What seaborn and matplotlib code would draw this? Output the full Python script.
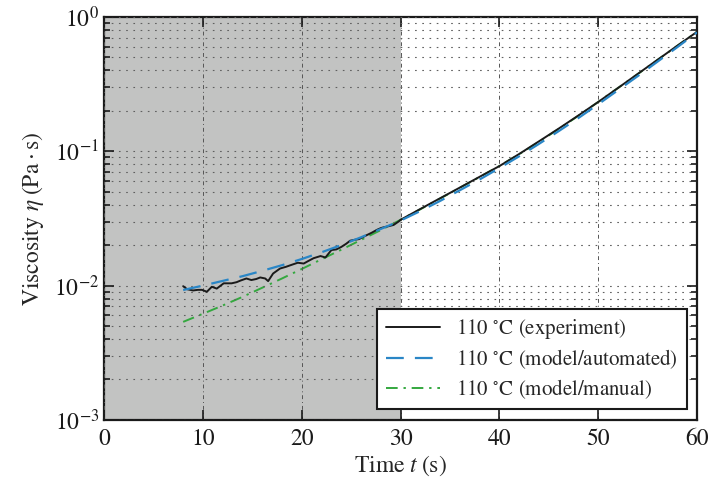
import numpy as np
import pandas as pd
import matplotlib
matplotlib.use("Agg")
import matplotlib.pyplot as plt
import seaborn as sns
from matplotlib.ticker import LogLocator, MultipleLocator, NullFormatter

# ---- data ----
t_exp = [8.0, 8.4, 9.0, 9.5, 9.9, 10.4, 10.9, 11.4, 12.1, 12.9, 13.4, 13.8, 14.4,
         14.9, 15.4, 15.8, 16.3, 16.6, 17.1, 17.8, 18.4, 19.0, 19.6, 20.2, 20.7,
         21.2, 21.9, 22.4, 23.0, 23.5, 24.0, 24.5, 24.9, 25.3, 25.8, 26.2, 26.6,
         27.1, 27.6, 28.0, 28.3, 28.8, 29.3, 29.8, 30.0, 32, 34, 36, 38, 40, 42,
         44, 46, 48, 50, 52, 54, 56, 58, 60]
eta_exp = [0.0099, 0.0094, 0.0092, 0.0093, 0.0093, 0.0090, 0.0098, 0.0095, 0.0104,
           0.0104, 0.0106, 0.0109, 0.0113, 0.0110, 0.0112, 0.0115, 0.0113, 0.0108,
           0.0123, 0.0134, 0.0138, 0.0143, 0.0148, 0.0146, 0.0153, 0.0160, 0.0166,
           0.0162, 0.0184, 0.0186, 0.0194, 0.0205, 0.0216, 0.0219, 0.0222, 0.0230,
           0.0238, 0.0248, 0.0260, 0.0268, 0.0272, 0.0277, 0.0283, 0.0300, 0.0309,
           0.0372, 0.0447, 0.0537, 0.0646, 0.0776, 0.0955, 0.1186, 0.1476, 0.185,
           0.233, 0.296, 0.377, 0.480, 0.611, 0.776]

t_model = [8, 10, 12, 14, 16, 18, 20, 22, 24, 26, 28, 30, 32, 34, 36, 38, 40, 42,
           44, 46, 48, 50, 52, 54, 56, 58, 60]
eta_auto = [0.00927, 0.0100, 0.01084, 0.01175, 0.01288, 0.01419, 0.01578, 0.0177,
            0.02004, 0.0229, 0.0264, 0.0305, 0.0359, 0.0427, 0.0513, 0.0617, 0.0750,
            0.0918, 0.1135, 0.1413, 0.177, 0.224, 0.285, 0.363, 0.465, 0.596, 0.767]
eta_manual = [0.00537, 0.00617, 0.00711, 0.00824, 0.00964, 0.0113, 0.0133, 0.0157,
              0.0185, 0.0219, 0.0259, 0.0309, 0.0370, 0.0445, 0.0535, 0.0644, 0.0778,
              0.0951, 0.1175, 0.1466, 0.184, 0.233, 0.296, 0.376, 0.479, 0.610, 0.776]

shade_range = [0, 30]
labels = [r"110 $^{\circ}$C (experiment)",
          r"110 $^{\circ}$C (model/automated)",
          r"110 $^{\circ}$C (model/manual)"]

# ---- style ----
sns.set_style("ticks")
plt.rcParams["font.family"] = ["STIXGeneral", "DejaVu Serif"]
plt.rcParams["mathtext.fontset"] = "stix"

fig = plt.figure(figsize=(7.13, 4.86), dpi=100)
ax = fig.add_axes([0.146, 0.136, 0.8316, 0.829])

ax.axvspan(shade_range[0], shade_range[1], color="#c2c3c2", zorder=0, lw=0)

sns.lineplot(x=t_exp, y=eta_exp, ax=ax, color="#1a1a1a", lw=1.4,
             label=labels[0], zorder=3)
sns.lineplot(x=t_model, y=eta_auto, ax=ax, color="#2a86c6", lw=1.6,
             label=labels[1], zorder=4)
sns.lineplot(x=t_model, y=eta_manual, ax=ax, color="#34a83f", lw=1.4,
             label=labels[2], zorder=2)
lines = ax.get_lines()
lines[1].set_dashes([8, 5])
lines[2].set_dashes([6, 3, 1.2, 3])

ax.set_yscale("log")
ax.set_xlim(0, 60)
ax.set_ylim(1e-3, 1)
ax.xaxis.set_major_locator(MultipleLocator(10))
ax.yaxis.set_major_locator(LogLocator(base=10, numticks=10))
ax.yaxis.set_minor_locator(LogLocator(base=10, subs=np.arange(2, 10), numticks=20))
ax.yaxis.set_minor_formatter(NullFormatter())

ax.grid(which="major", axis="x", color="#555555", ls=(0, (4, 3, 1, 3)), lw=0.7, zorder=1)
ax.grid(which="major", axis="y", color="#606060", ls=(0, (1.5, 5)), lw=0.8, zorder=1)
ax.grid(which="minor", axis="y", color="#606060", ls=(0, (1.5, 5)), lw=0.8, zorder=1)
ax.set_axisbelow(False)

ax.tick_params(which="both", direction="in", top=True, right=True,
               labelsize=17, width=1.2, colors="#1a1a1a")
ax.tick_params(which="major", length=7)
ax.tick_params(which="minor", length=4)
ax.tick_params(axis="x", pad=6)
for s in ax.spines.values():
    s.set_linewidth(1.6)
    s.set_color("#1a1a1a")

ax.set_xlabel(r"Time $t\;$(s)", fontsize=17, labelpad=3)
ax.set_ylabel(r"Viscosity $\eta\;(\mathrm{Pa \cdot s})$", fontsize=17, labelpad=6)

leg = ax.legend(loc="lower right", fontsize=15, frameon=True, fancybox=False,
                framealpha=1, edgecolor="#1a1a1a", borderaxespad=0.5,
                handlelength=2.6, labelspacing=0.3, borderpad=0.4)
leg.get_frame().set_linewidth(1.5)
leg.set_zorder(10)

fig.savefig("out.png", dpi=100)
